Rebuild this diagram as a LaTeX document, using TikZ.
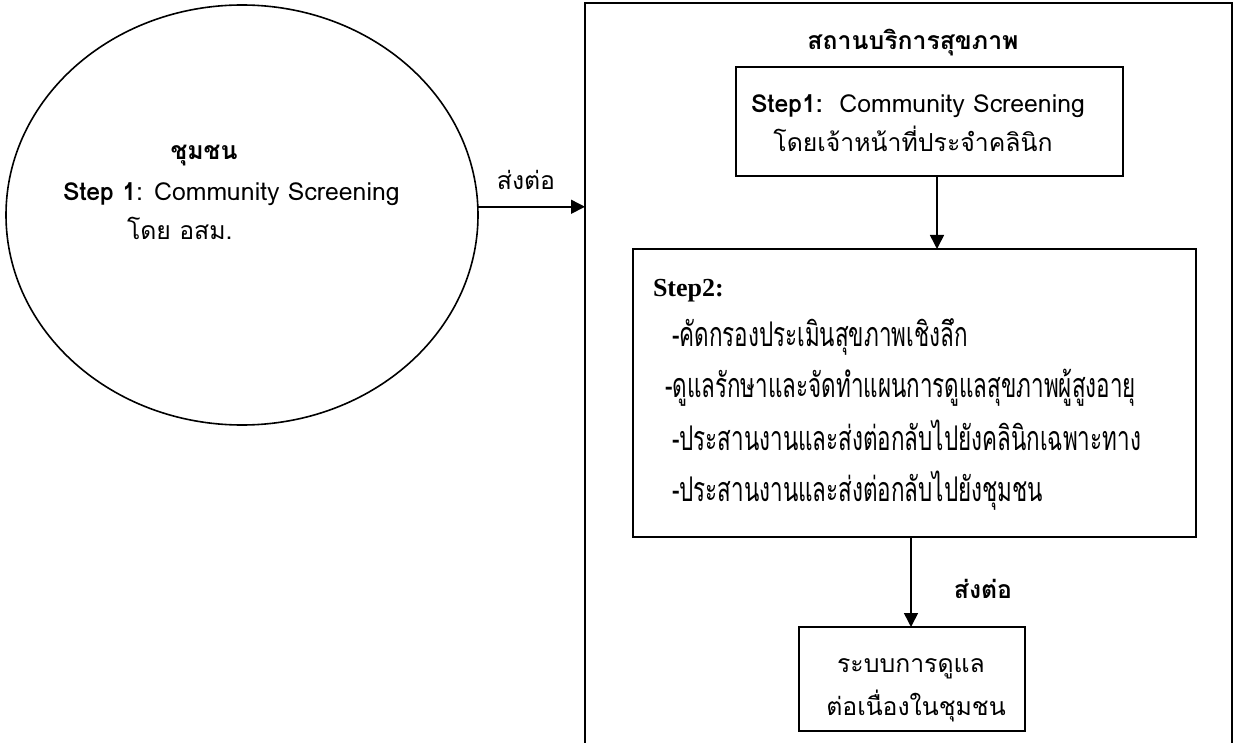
\documentclass[tikz,border=0pt]{standalone}
\usepackage{fontspec}
\usetikzlibrary{arrows.meta,shapes.geometric}
\setmainfont{Loma}[Script=Thai]
\newfontfamily\thainarrow{Loma}[Script=Thai,FakeStretch=0.66]
\newfontfamily\stepserif{Liberation Serif}
\begin{document}
\begin{tikzpicture}[x=1pt,y=-1pt,
  every node/.style={inner sep=0pt, outer sep=0pt},
  frame/.style={draw, line width=1.6pt},
  flow/.style={draw, line width=1.6pt, -{Triangle[length=14pt,width=14pt]}},
  txt/.style={font=\fontsize{24.8}{29}\selectfont},
  txtb/.style={font=\fontsize{24.8}{29}\selectfont\bfseries},
  listtxt/.style={font=\fontsize{34}{40}\selectfont\thainarrow},
  base west/.style={anchor=base west},
  base mid/.style={anchor=base}]
\useasboundingbox (0,0) rectangle (1235,743);

% community circle
\node[frame, ellipse, minimum width=472pt, minimum height=420pt] (comm) at (242,215) {};
\node[txtb, base mid] (commtitle) at (204,160) {ชุมชน};
\node[txt, base west] (commstep) at (63,201) {\textbf{Step 1}: Community Screening};
\node[txt, base west] (commby) at (127,240) {โดย อสม.};

% health service frame, open past the lower edge
\begin{scope}
  \clip (0,0) rectangle (1235,743);
  \node[frame, minimum width=647pt, minimum height=800pt, anchor=north west] (clinic) at (585,3) {};
\end{scope}
\node[txtb, base mid] (clinictitle) at (913,50) {สถานบริการสุขภาพ};

% step 1 at the clinic
\node[frame, minimum width=387pt, minimum height=109pt] (s1box) at (929.5,121.5) {};
\node[txt, base mid] (s1a) at (918,113) {\textbf{Step1:}\ \ Community Screening};
\node[txt, base mid] (s1b) at (913,152) {โดยเจ้าหน้าที่ประจำคลินิก};

% step 2 at the clinic
\node[frame, minimum width=563pt, minimum height=288pt] (s2box) at (914.5,393) {};
\node[font=\fontsize{26}{30}\selectfont\stepserif\bfseries, base west] (s2head) at (653,297) {Step2:};
\node[listtxt, base west] (s2a) at (672,347) {-คัดกรองประเมินสุขภาพเชิงลึก};
\node[listtxt, base west] (s2b) at (665,398) {-ดูแลรักษาและจัดทำแผนการดูแลสุขภาพผู้สูงอายุ};
\node[listtxt, base west] (s2c) at (672,450) {-ประสานงานและส่งต่อกลับไปยังคลินิกเฉพาะทาง};
\node[listtxt, base west] (s2d) at (672,501) {-ประสานงานและส่งต่อกลับไปยังชุมชน};

% continuing care
\node[frame, minimum width=226pt, minimum height=104pt] (care) at (912,679) {};
\node[txt, base mid] (carea) at (911,672) {ระบบการดูแล};
\node[txt, base mid] (careb) at (916,715) {ต่อเนื่องในชุมชน};

% connectors
\draw[flow] (comm.2.4) -- (comm.2.4 -| clinic.west);
\node[txt, base mid] (refer1) at (526,190) {ส่งต่อ};
\draw[flow] ([xshift=7.5pt]s1box.south) -- ([xshift=7.5pt]s1box.south |- s2box.north);
\draw[flow] ([xshift=-3.5pt]s2box.south) -- ([xshift=-3.5pt]s2box.south |- care.north);
\node[txtb, base mid] (refer2) at (983,598) {ส่งต่อ};
\end{tikzpicture}
\end{document}
